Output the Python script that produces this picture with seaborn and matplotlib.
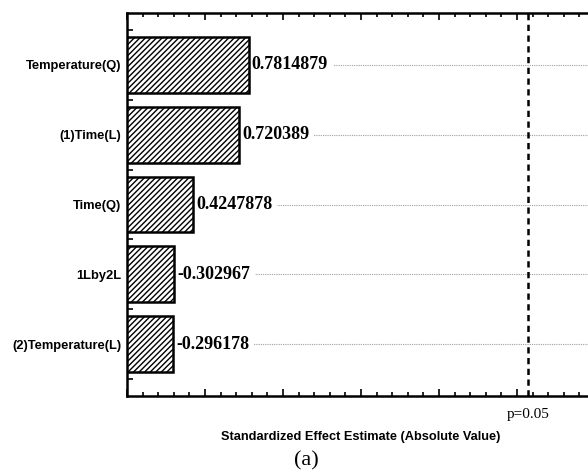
import matplotlib
matplotlib.use("Agg")
import matplotlib.pyplot as plt
from matplotlib.ticker import MultipleLocator, FixedLocator
import seaborn as sns
import pandas as pd
import numpy as np

# Pareto chart of standardized effects
factors = ["Temperature(Q)", "(1)Time(L)", "Time(Q)", "1Lby2L", "(2)Temperature(L)"]
effects = [0.7814879, 0.720389, 0.4247878, -0.302967, -0.296178]
effect_labels = ["0.7814879", "0.720389", "0.4247878", "-0.302967", "-0.296178"]
p_crit = 2.571  # t critical value, p = 0.05

df = pd.DataFrame({"factor": factors, "effect": effects})
df["abs_effect"] = df["effect"].abs()

sns.set_theme(style="white")
plt.rcParams["hatch.linewidth"] = 1.0
plt.rcParams["text.color"] = "black"

fig = plt.figure(figsize=(5.88, 4.75), dpi=100)
ax = fig.add_axes([127 / 588, 1 - 396 / 475, 1 - 127 / 588, (396 - 13) / 475])

sns.barplot(data=df, x="abs_effect", y="factor", orient="h", ax=ax,
            color="white", edgecolor="black", linewidth=1.8, width=0.8,
            hatch="//////", zorder=3)

ax.set_xlim(0, (588 - 127) / 156)
ax.set_ylim(4.745, -0.745)

# dotted guide lines at each factor
for i in range(len(factors)):
    ax.axhline(i, color="#a0a0a0", linestyle=(0, (1, 1)), linewidth=0.8, zorder=1)

# value labels next to bars (white box masks the guide line behind the text)
for i, (v, lab) in enumerate(zip(df["abs_effect"], effect_labels)):
    ax.text(v + 0.018, i, lab, va="center", ha="left", fontsize=13,
            fontweight="bold", family="Liberation Serif", color="black", zorder=2.5,
            bbox=dict(facecolor="white", edgecolor="none", pad=3.5))

# significance threshold
ax.axvline(p_crit, color="black", linestyle=(0, (2.5, 1.8)), linewidth=1.8, zorder=2)
ax.text(p_crit, -0.032, "p=0.05", transform=ax.get_xaxis_transform(),
        ha="center", va="top", fontsize=11, family="Liberation Serif", color="black")

# spines and ticks
for s in ["left", "top", "bottom"]:
    ax.spines[s].set_visible(True)
    ax.spines[s].set_color("black")
    ax.spines[s].set_linewidth(1.8)
ax.spines["right"].set_visible(False)

ax.xaxis.set_major_locator(MultipleLocator(0.5))
ax.xaxis.set_minor_locator(MultipleLocator(0.1))
ax.tick_params(axis="x", which="both", direction="in", top=True, bottom=True,
               labelbottom=False, color="black", width=1.2)
ax.tick_params(axis="x", which="major", length=5)
ax.tick_params(axis="x", which="minor", length=3)
ax.yaxis.set_minor_locator(FixedLocator(np.arange(-0.5, 5.0, 1.0)))
ax.tick_params(axis="y", which="major", length=0, pad=4)
ax.tick_params(axis="y", which="minor", direction="in", left=True, length=4,
               width=1.2, color="black")
for t in ax.get_yticklabels():
    t.set_fontfamily("Liberation Sans")
    t.set_fontweight("bold")
    t.set_fontsize(9.3)
    t.set_color("black")

ax.set_ylabel("")
ax.set_xlabel("")
fig.text(361 / 588, 1 - 437 / 475, "Standardized Effect Estimate (Absolute Value)",
         ha="center", va="center", fontsize=9.2, fontweight="bold",
         family="Liberation Sans", color="black")
fig.text(306 / 588, 1 - 461 / 475, "(a)", ha="center", va="center",
         fontsize=16, family="Liberation Serif", color="black")

fig.savefig("out.png", dpi=100, facecolor="white")
